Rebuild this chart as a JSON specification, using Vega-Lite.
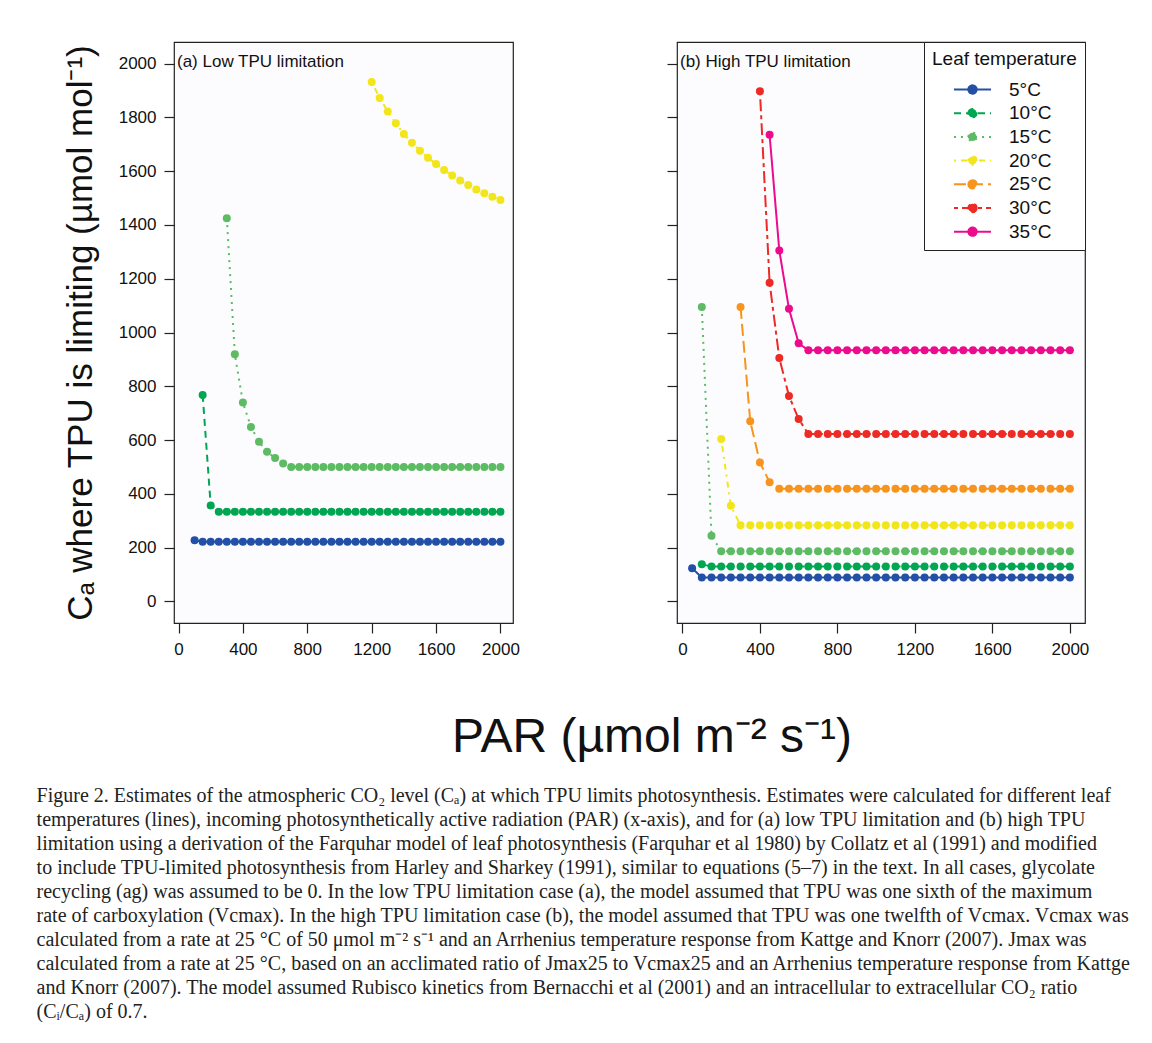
{
  "$schema": "https://vega.github.io/schema/vega-lite/v6.json",
  "background": "white",
  "padding": {"left": 36, "top": 40, "right": 0, "bottom": 0},
  "config": {
    "font": "Liberation Sans",
    "view": {"stroke": "#222222", "strokeWidth": 1.2, "fill": "#fcfcfe"},
    "axis": {"grid": false, "domain": false, "tickColor": "#222222", "tickSize": 10, "tickWidth": 1.2, "labelColor": "#111111", "labelFontSize": 17, "labelPadding": 8, "titleColor": "#111111", "titleFontWeight": "normal", "format": "d"},
    "legend": {"titleFontWeight": "normal"},
    "title": {"color": "#111111", "fontWeight": "normal"}
  },
  "datasets": {
    "a": [
      {"t":"5°C","x":100,"y":228},{"t":"5°C","x":150,"y":222},{"t":"5°C","x":200,"y":222},{"t":"5°C","x":250,"y":222},{"t":"5°C","x":300,"y":222},{"t":"5°C","x":350,"y":222},{"t":"5°C","x":400,"y":222},{"t":"5°C","x":450,"y":222},{"t":"5°C","x":500,"y":222},{"t":"5°C","x":550,"y":222},{"t":"5°C","x":600,"y":222},{"t":"5°C","x":650,"y":222},{"t":"5°C","x":700,"y":222},{"t":"5°C","x":750,"y":222},{"t":"5°C","x":800,"y":222},{"t":"5°C","x":850,"y":222},{"t":"5°C","x":900,"y":222},{"t":"5°C","x":950,"y":222},{"t":"5°C","x":1000,"y":222},{"t":"5°C","x":1050,"y":222},{"t":"5°C","x":1100,"y":222},{"t":"5°C","x":1150,"y":222},{"t":"5°C","x":1200,"y":222},{"t":"5°C","x":1250,"y":222},{"t":"5°C","x":1300,"y":222},{"t":"5°C","x":1350,"y":222},{"t":"5°C","x":1400,"y":222},{"t":"5°C","x":1450,"y":222},{"t":"5°C","x":1500,"y":222},{"t":"5°C","x":1550,"y":222},{"t":"5°C","x":1600,"y":222},{"t":"5°C","x":1650,"y":222},{"t":"5°C","x":1700,"y":222},{"t":"5°C","x":1750,"y":222},{"t":"5°C","x":1800,"y":222},{"t":"5°C","x":1850,"y":222},{"t":"5°C","x":1900,"y":222},{"t":"5°C","x":1950,"y":222},{"t":"5°C","x":2000,"y":222},
      {"t":"10°C","x":150,"y":768},{"t":"10°C","x":200,"y":357},{"t":"10°C","x":250,"y":334},{"t":"10°C","x":300,"y":334},{"t":"10°C","x":350,"y":334},{"t":"10°C","x":400,"y":334},{"t":"10°C","x":450,"y":334},{"t":"10°C","x":500,"y":334},{"t":"10°C","x":550,"y":334},{"t":"10°C","x":600,"y":334},{"t":"10°C","x":650,"y":334},{"t":"10°C","x":700,"y":334},{"t":"10°C","x":750,"y":334},{"t":"10°C","x":800,"y":334},{"t":"10°C","x":850,"y":334},{"t":"10°C","x":900,"y":334},{"t":"10°C","x":950,"y":334},{"t":"10°C","x":1000,"y":334},{"t":"10°C","x":1050,"y":334},{"t":"10°C","x":1100,"y":334},{"t":"10°C","x":1150,"y":334},{"t":"10°C","x":1200,"y":334},{"t":"10°C","x":1250,"y":334},{"t":"10°C","x":1300,"y":334},{"t":"10°C","x":1350,"y":334},{"t":"10°C","x":1400,"y":334},{"t":"10°C","x":1450,"y":334},{"t":"10°C","x":1500,"y":334},{"t":"10°C","x":1550,"y":334},{"t":"10°C","x":1600,"y":334},{"t":"10°C","x":1650,"y":334},{"t":"10°C","x":1700,"y":334},{"t":"10°C","x":1750,"y":334},{"t":"10°C","x":1800,"y":334},{"t":"10°C","x":1850,"y":334},{"t":"10°C","x":1900,"y":334},{"t":"10°C","x":1950,"y":334},{"t":"10°C","x":2000,"y":334},
      {"t":"15°C","x":300,"y":1425},{"t":"15°C","x":350,"y":919},{"t":"15°C","x":400,"y":740},{"t":"15°C","x":450,"y":649},{"t":"15°C","x":500,"y":594},{"t":"15°C","x":550,"y":557},{"t":"15°C","x":600,"y":533},{"t":"15°C","x":650,"y":513},{"t":"15°C","x":700,"y":500},{"t":"15°C","x":750,"y":500},{"t":"15°C","x":800,"y":500},{"t":"15°C","x":850,"y":500},{"t":"15°C","x":900,"y":500},{"t":"15°C","x":950,"y":500},{"t":"15°C","x":1000,"y":500},{"t":"15°C","x":1050,"y":500},{"t":"15°C","x":1100,"y":500},{"t":"15°C","x":1150,"y":500},{"t":"15°C","x":1200,"y":500},{"t":"15°C","x":1250,"y":500},{"t":"15°C","x":1300,"y":500},{"t":"15°C","x":1350,"y":500},{"t":"15°C","x":1400,"y":500},{"t":"15°C","x":1450,"y":500},{"t":"15°C","x":1500,"y":500},{"t":"15°C","x":1550,"y":500},{"t":"15°C","x":1600,"y":500},{"t":"15°C","x":1650,"y":500},{"t":"15°C","x":1700,"y":500},{"t":"15°C","x":1750,"y":500},{"t":"15°C","x":1800,"y":500},{"t":"15°C","x":1850,"y":500},{"t":"15°C","x":1900,"y":500},{"t":"15°C","x":1950,"y":500},{"t":"15°C","x":2000,"y":500},
      {"t":"20°C","x":1200,"y":1931},{"t":"20°C","x":1250,"y":1872},{"t":"20°C","x":1300,"y":1822},{"t":"20°C","x":1350,"y":1778},{"t":"20°C","x":1400,"y":1738},{"t":"20°C","x":1450,"y":1705},{"t":"20°C","x":1500,"y":1676},{"t":"20°C","x":1550,"y":1650},{"t":"20°C","x":1600,"y":1626},{"t":"20°C","x":1650,"y":1604},{"t":"20°C","x":1700,"y":1584},{"t":"20°C","x":1750,"y":1565},{"t":"20°C","x":1800,"y":1548},{"t":"20°C","x":1850,"y":1532},{"t":"20°C","x":1900,"y":1518},{"t":"20°C","x":1950,"y":1505},{"t":"20°C","x":2000,"y":1493}
    ],
    "b": [
      {"t":"5°C","x":50,"y":124},{"t":"5°C","x":100,"y":89},{"t":"5°C","x":150,"y":89},{"t":"5°C","x":200,"y":89},{"t":"5°C","x":250,"y":89},{"t":"5°C","x":300,"y":89},{"t":"5°C","x":350,"y":89},{"t":"5°C","x":400,"y":89},{"t":"5°C","x":450,"y":89},{"t":"5°C","x":500,"y":89},{"t":"5°C","x":550,"y":89},{"t":"5°C","x":600,"y":89},{"t":"5°C","x":650,"y":89},{"t":"5°C","x":700,"y":89},{"t":"5°C","x":750,"y":89},{"t":"5°C","x":800,"y":89},{"t":"5°C","x":850,"y":89},{"t":"5°C","x":900,"y":89},{"t":"5°C","x":950,"y":89},{"t":"5°C","x":1000,"y":89},{"t":"5°C","x":1050,"y":89},{"t":"5°C","x":1100,"y":89},{"t":"5°C","x":1150,"y":89},{"t":"5°C","x":1200,"y":89},{"t":"5°C","x":1250,"y":89},{"t":"5°C","x":1300,"y":89},{"t":"5°C","x":1350,"y":89},{"t":"5°C","x":1400,"y":89},{"t":"5°C","x":1450,"y":89},{"t":"5°C","x":1500,"y":89},{"t":"5°C","x":1550,"y":89},{"t":"5°C","x":1600,"y":89},{"t":"5°C","x":1650,"y":89},{"t":"5°C","x":1700,"y":89},{"t":"5°C","x":1750,"y":89},{"t":"5°C","x":1800,"y":89},{"t":"5°C","x":1850,"y":89},{"t":"5°C","x":1900,"y":89},{"t":"5°C","x":1950,"y":89},{"t":"5°C","x":2000,"y":89},
      {"t":"10°C","x":100,"y":138},{"t":"10°C","x":150,"y":130},{"t":"10°C","x":200,"y":130},{"t":"10°C","x":250,"y":130},{"t":"10°C","x":300,"y":130},{"t":"10°C","x":350,"y":130},{"t":"10°C","x":400,"y":130},{"t":"10°C","x":450,"y":130},{"t":"10°C","x":500,"y":130},{"t":"10°C","x":550,"y":130},{"t":"10°C","x":600,"y":130},{"t":"10°C","x":650,"y":130},{"t":"10°C","x":700,"y":130},{"t":"10°C","x":750,"y":130},{"t":"10°C","x":800,"y":130},{"t":"10°C","x":850,"y":130},{"t":"10°C","x":900,"y":130},{"t":"10°C","x":950,"y":130},{"t":"10°C","x":1000,"y":130},{"t":"10°C","x":1050,"y":130},{"t":"10°C","x":1100,"y":130},{"t":"10°C","x":1150,"y":130},{"t":"10°C","x":1200,"y":130},{"t":"10°C","x":1250,"y":130},{"t":"10°C","x":1300,"y":130},{"t":"10°C","x":1350,"y":130},{"t":"10°C","x":1400,"y":130},{"t":"10°C","x":1450,"y":130},{"t":"10°C","x":1500,"y":130},{"t":"10°C","x":1550,"y":130},{"t":"10°C","x":1600,"y":130},{"t":"10°C","x":1650,"y":130},{"t":"10°C","x":1700,"y":130},{"t":"10°C","x":1750,"y":130},{"t":"10°C","x":1800,"y":130},{"t":"10°C","x":1850,"y":130},{"t":"10°C","x":1900,"y":130},{"t":"10°C","x":1950,"y":130},{"t":"10°C","x":2000,"y":130},
      {"t":"15°C","x":100,"y":1095},{"t":"15°C","x":150,"y":244},{"t":"15°C","x":200,"y":187},{"t":"15°C","x":250,"y":187},{"t":"15°C","x":300,"y":187},{"t":"15°C","x":350,"y":187},{"t":"15°C","x":400,"y":187},{"t":"15°C","x":450,"y":187},{"t":"15°C","x":500,"y":187},{"t":"15°C","x":550,"y":187},{"t":"15°C","x":600,"y":187},{"t":"15°C","x":650,"y":187},{"t":"15°C","x":700,"y":187},{"t":"15°C","x":750,"y":187},{"t":"15°C","x":800,"y":187},{"t":"15°C","x":850,"y":187},{"t":"15°C","x":900,"y":187},{"t":"15°C","x":950,"y":187},{"t":"15°C","x":1000,"y":187},{"t":"15°C","x":1050,"y":187},{"t":"15°C","x":1100,"y":187},{"t":"15°C","x":1150,"y":187},{"t":"15°C","x":1200,"y":187},{"t":"15°C","x":1250,"y":187},{"t":"15°C","x":1300,"y":187},{"t":"15°C","x":1350,"y":187},{"t":"15°C","x":1400,"y":187},{"t":"15°C","x":1450,"y":187},{"t":"15°C","x":1500,"y":187},{"t":"15°C","x":1550,"y":187},{"t":"15°C","x":1600,"y":187},{"t":"15°C","x":1650,"y":187},{"t":"15°C","x":1700,"y":187},{"t":"15°C","x":1750,"y":187},{"t":"15°C","x":1800,"y":187},{"t":"15°C","x":1850,"y":187},{"t":"15°C","x":1900,"y":187},{"t":"15°C","x":1950,"y":187},{"t":"15°C","x":2000,"y":187},
      {"t":"20°C","x":200,"y":604},{"t":"20°C","x":250,"y":356},{"t":"20°C","x":300,"y":283},{"t":"20°C","x":350,"y":283},{"t":"20°C","x":400,"y":283},{"t":"20°C","x":450,"y":283},{"t":"20°C","x":500,"y":283},{"t":"20°C","x":550,"y":283},{"t":"20°C","x":600,"y":283},{"t":"20°C","x":650,"y":283},{"t":"20°C","x":700,"y":283},{"t":"20°C","x":750,"y":283},{"t":"20°C","x":800,"y":283},{"t":"20°C","x":850,"y":283},{"t":"20°C","x":900,"y":283},{"t":"20°C","x":950,"y":283},{"t":"20°C","x":1000,"y":283},{"t":"20°C","x":1050,"y":283},{"t":"20°C","x":1100,"y":283},{"t":"20°C","x":1150,"y":283},{"t":"20°C","x":1200,"y":283},{"t":"20°C","x":1250,"y":283},{"t":"20°C","x":1300,"y":283},{"t":"20°C","x":1350,"y":283},{"t":"20°C","x":1400,"y":283},{"t":"20°C","x":1450,"y":283},{"t":"20°C","x":1500,"y":283},{"t":"20°C","x":1550,"y":283},{"t":"20°C","x":1600,"y":283},{"t":"20°C","x":1650,"y":283},{"t":"20°C","x":1700,"y":283},{"t":"20°C","x":1750,"y":283},{"t":"20°C","x":1800,"y":283},{"t":"20°C","x":1850,"y":283},{"t":"20°C","x":1900,"y":283},{"t":"20°C","x":1950,"y":283},{"t":"20°C","x":2000,"y":283},
      {"t":"25°C","x":300,"y":1095},{"t":"25°C","x":350,"y":670},{"t":"25°C","x":400,"y":517},{"t":"25°C","x":450,"y":443},{"t":"25°C","x":500,"y":419},{"t":"25°C","x":550,"y":419},{"t":"25°C","x":600,"y":419},{"t":"25°C","x":650,"y":419},{"t":"25°C","x":700,"y":419},{"t":"25°C","x":750,"y":419},{"t":"25°C","x":800,"y":419},{"t":"25°C","x":850,"y":419},{"t":"25°C","x":900,"y":419},{"t":"25°C","x":950,"y":419},{"t":"25°C","x":1000,"y":419},{"t":"25°C","x":1050,"y":419},{"t":"25°C","x":1100,"y":419},{"t":"25°C","x":1150,"y":419},{"t":"25°C","x":1200,"y":419},{"t":"25°C","x":1250,"y":419},{"t":"25°C","x":1300,"y":419},{"t":"25°C","x":1350,"y":419},{"t":"25°C","x":1400,"y":419},{"t":"25°C","x":1450,"y":419},{"t":"25°C","x":1500,"y":419},{"t":"25°C","x":1550,"y":419},{"t":"25°C","x":1600,"y":419},{"t":"25°C","x":1650,"y":419},{"t":"25°C","x":1700,"y":419},{"t":"25°C","x":1750,"y":419},{"t":"25°C","x":1800,"y":419},{"t":"25°C","x":1850,"y":419},{"t":"25°C","x":1900,"y":419},{"t":"25°C","x":1950,"y":419},{"t":"25°C","x":2000,"y":419},
      {"t":"30°C","x":400,"y":1897},{"t":"30°C","x":450,"y":1185},{"t":"30°C","x":500,"y":905},{"t":"30°C","x":550,"y":764},{"t":"30°C","x":600,"y":678},{"t":"30°C","x":650,"y":623},{"t":"30°C","x":700,"y":623},{"t":"30°C","x":750,"y":623},{"t":"30°C","x":800,"y":623},{"t":"30°C","x":850,"y":623},{"t":"30°C","x":900,"y":623},{"t":"30°C","x":950,"y":623},{"t":"30°C","x":1000,"y":623},{"t":"30°C","x":1050,"y":623},{"t":"30°C","x":1100,"y":623},{"t":"30°C","x":1150,"y":623},{"t":"30°C","x":1200,"y":623},{"t":"30°C","x":1250,"y":623},{"t":"30°C","x":1300,"y":623},{"t":"30°C","x":1350,"y":623},{"t":"30°C","x":1400,"y":623},{"t":"30°C","x":1450,"y":623},{"t":"30°C","x":1500,"y":623},{"t":"30°C","x":1550,"y":623},{"t":"30°C","x":1600,"y":623},{"t":"30°C","x":1650,"y":623},{"t":"30°C","x":1700,"y":623},{"t":"30°C","x":1750,"y":623},{"t":"30°C","x":1800,"y":623},{"t":"30°C","x":1850,"y":623},{"t":"30°C","x":1900,"y":623},{"t":"30°C","x":1950,"y":623},{"t":"30°C","x":2000,"y":623},
      {"t":"35°C","x":450,"y":1735},{"t":"35°C","x":500,"y":1305},{"t":"35°C","x":550,"y":1088},{"t":"35°C","x":600,"y":960},{"t":"35°C","x":650,"y":934},{"t":"35°C","x":700,"y":934},{"t":"35°C","x":750,"y":934},{"t":"35°C","x":800,"y":934},{"t":"35°C","x":850,"y":934},{"t":"35°C","x":900,"y":934},{"t":"35°C","x":950,"y":934},{"t":"35°C","x":1000,"y":934},{"t":"35°C","x":1050,"y":934},{"t":"35°C","x":1100,"y":934},{"t":"35°C","x":1150,"y":934},{"t":"35°C","x":1200,"y":934},{"t":"35°C","x":1250,"y":934},{"t":"35°C","x":1300,"y":934},{"t":"35°C","x":1350,"y":934},{"t":"35°C","x":1400,"y":934},{"t":"35°C","x":1450,"y":934},{"t":"35°C","x":1500,"y":934},{"t":"35°C","x":1550,"y":934},{"t":"35°C","x":1600,"y":934},{"t":"35°C","x":1650,"y":934},{"t":"35°C","x":1700,"y":934},{"t":"35°C","x":1750,"y":934},{"t":"35°C","x":1800,"y":934},{"t":"35°C","x":1850,"y":934},{"t":"35°C","x":1900,"y":934},{"t":"35°C","x":1950,"y":934},{"t":"35°C","x":2000,"y":934}
    ]
  },
  "title": {
    "text": [
      "Figure 2. Estimates of the atmospheric CO₂ level (Cₐ) at which TPU limits photosynthesis. Estimates were calculated for different leaf",
      "temperatures (lines), incoming photosynthetically active radiation (PAR) (x-axis), and for (a) low TPU limitation and (b) high TPU",
      "limitation using a derivation of the Farquhar model of leaf photosynthesis (Farquhar et al 1980) by Collatz et al (1991) and modified",
      "to include TPU-limited photosynthesis from Harley and Sharkey (1991), similar to equations (5–7) in the text. In all cases, glycolate",
      "recycling (ag) was assumed to be 0. In the low TPU limitation case (a), the model assumed that TPU was one sixth of the maximum",
      "rate of carboxylation (Vcmax). In the high TPU limitation case (b), the model assumed that TPU was one twelfth of Vcmax. Vcmax was",
      "calculated from a rate at 25 °C of 50 μmol m⁻² s⁻¹ and an Arrhenius temperature response from Kattge and Knorr (2007). Jmax was",
      "calculated from a rate at 25 °C, based on an acclimated ratio of Jmax25 to Vcmax25 and an Arrhenius temperature response from Kattge",
      "and Knorr (2007). The model assumed Rubisco kinetics from Bernacchi et al (2001) and an intracellular to extracellular CO₂ ratio",
      "(Cᵢ/Cₐ) of 0.7."
    ],
    "orient": "bottom",
    "anchor": "start",
    "font": "Liberation Serif",
    "fontSize": 20,
    "lineHeight": 24,
    "fontWeight": "normal",
    "color": "#222222",
    "offset": 24,
    "dx": -26
  },
  "vconcat": [
    {
      "title": {"text": "PAR (µmol m⁻² s⁻¹)", "orient": "bottom", "anchor": "middle", "fontSize": 48, "fontWeight": "normal", "font": "Liberation Sans", "offset": 56, "dx": 76},
      "spacing": 145,
      "resolve": {"scale": {"color": "independent", "strokeDash": "independent"}},
      "hconcat": [
        {
          "width": 339,
          "height": 581,
          "data": {"name": "a"},
          "title": {"text": "(a)  Low TPU limitation", "anchor": "start", "frame": "group", "orient": "top", "offset": -37, "baseline": "middle", "fontSize": 17, "font": "Liberation Sans", "fontWeight": "normal", "dx": 3},
          "encoding": {
            "x": {"field": "x", "type": "quantitative", "scale": {"domain": [-28, 2078], "nice": false, "zero": false}, "axis": {"values": [0, 400, 800, 1200, 1600, 2000], "title": null}},
            "y": {"field": "y", "type": "quantitative", "scale": {"domain": [-80, 2080], "nice": false, "zero": false}, "axis": {"values": [0, 200, 400, 600, 800, 1000, 1200, 1400, 1600, 1800, 2000], "title": "Cₐ where TPU is limiting (µmol mol⁻¹)", "titleFontSize": 35, "titlePadding": 20, "titleFont": "Liberation Sans"}}
          },
          "layer": [
            {
              "mark": {"type": "line", "strokeWidth": 2},
              "encoding": {
                "color": {"field": "t", "type": "nominal", "legend": null, "scale": {"domain": ["5°C", "10°C", "15°C", "20°C", "25°C", "30°C", "35°C"], "range": ["#2350A6", "#00A651", "#5DBB63", "#F2E61B", "#F7941D", "#EE2A24", "#EC0B8C"]}},
                "strokeDash": {"field": "t", "type": "nominal", "legend": null, "scale": {"domain": ["5°C", "10°C", "15°C", "20°C", "25°C", "30°C", "35°C"], "range": [[1, 0], [7, 5], [2, 5], [2, 5, 6, 5], [12, 5], [4, 4, 12, 4], [1, 0]]}}
              }
            },
            {
              "mark": {"type": "point", "filled": true, "size": 64, "opacity": 1},
              "encoding": {
                "color": {"field": "t", "type": "nominal", "legend": null, "scale": {"domain": ["5°C", "10°C", "15°C", "20°C", "25°C", "30°C", "35°C"], "range": ["#2350A6", "#00A651", "#5DBB63", "#F2E61B", "#F7941D", "#EE2A24", "#EC0B8C"]}}
              }
            }
          ]
        },
        {
          "width": 408,
          "height": 581,
          "data": {"name": "b"},
          "title": {"text": "(b)  High TPU limitation", "anchor": "start", "frame": "group", "orient": "top", "offset": -37, "baseline": "middle", "fontSize": 17, "font": "Liberation Sans", "fontWeight": "normal", "dx": 3},
          "encoding": {
            "x": {"field": "x", "type": "quantitative", "scale": {"domain": [-28, 2078], "nice": false, "zero": false}, "axis": {"values": [0, 400, 800, 1200, 1600, 2000], "title": null}},
            "y": {"field": "y", "type": "quantitative", "scale": {"domain": [-80, 2080], "nice": false, "zero": false}, "axis": {"values": [0, 200, 400, 600, 800, 1000, 1200, 1400, 1600, 1800, 2000], "title": null, "labels": false}}
          },
          "layer": [
            {
              "mark": {"type": "line", "strokeWidth": 2},
              "encoding": {
                "color": {"field": "t", "type": "nominal", "title": "Leaf temperature", "scale": {"domain": ["5°C", "10°C", "15°C", "20°C", "25°C", "30°C", "35°C"], "range": ["#2350A6", "#00A651", "#5DBB63", "#F2E61B", "#F7941D", "#EE2A24", "#EC0B8C"]},
                  "legend": {"orient": "top-right", "offset": 0, "padding": 8, "strokeColor": "#222222", "fillColor": "white", "titleFontSize": 19, "titleColor": "#111111", "titleFont": "Liberation Sans", "titlePadding": 10, "labelFontSize": 19, "labelColor": "#111111", "labelFont": "Liberation Sans", "symbolType": "M-2,0L2,0M-0.45,0A0.45,0.45,0,1,1,0.45,0A0.45,0.45,0,1,1,-0.45,0Z", "symbolSize": 342, "symbolStrokeWidth": 2, "symbolOffset": 30, "labelOffset": 26, "rowPadding": 2.7}},
                "strokeDash": {"field": "t", "type": "nominal", "title": "Leaf temperature", "scale": {"domain": ["5°C", "10°C", "15°C", "20°C", "25°C", "30°C", "35°C"], "range": [[1, 0], [7, 5], [2, 5], [2, 5, 6, 5], [12, 5], [4, 4, 12, 4], [1, 0]]},
                  "legend": {"orient": "top-right", "offset": 0, "padding": 8, "strokeColor": "#222222", "fillColor": "white", "titleFontSize": 19, "titleColor": "#111111", "titleFont": "Liberation Sans", "titlePadding": 10, "labelFontSize": 19, "labelColor": "#111111", "labelFont": "Liberation Sans", "symbolType": "M-2,0L2,0M-0.45,0A0.45,0.45,0,1,1,0.45,0A0.45,0.45,0,1,1,-0.45,0Z", "symbolSize": 342, "symbolStrokeWidth": 2, "symbolOffset": 30, "labelOffset": 26, "rowPadding": 2.7}}
              }
            },
            {
              "mark": {"type": "point", "filled": true, "size": 64, "opacity": 1},
              "encoding": {
                "color": {"field": "t", "type": "nominal", "title": "Leaf temperature", "scale": {"domain": ["5°C", "10°C", "15°C", "20°C", "25°C", "30°C", "35°C"], "range": ["#2350A6", "#00A651", "#5DBB63", "#F2E61B", "#F7941D", "#EE2A24", "#EC0B8C"]},
                  "legend": {"orient": "top-right", "offset": 0, "padding": 8, "strokeColor": "#222222", "fillColor": "white", "titleFontSize": 19, "titleColor": "#111111", "titleFont": "Liberation Sans", "titlePadding": 10, "labelFontSize": 19, "labelColor": "#111111", "labelFont": "Liberation Sans", "symbolType": "M-2,0L2,0M-0.45,0A0.45,0.45,0,1,1,0.45,0A0.45,0.45,0,1,1,-0.45,0Z", "symbolSize": 342, "symbolStrokeWidth": 2, "symbolOffset": 30, "labelOffset": 26, "rowPadding": 2.7}}
              }
            }
          ]
        }
      ]
    }
  ]
}
